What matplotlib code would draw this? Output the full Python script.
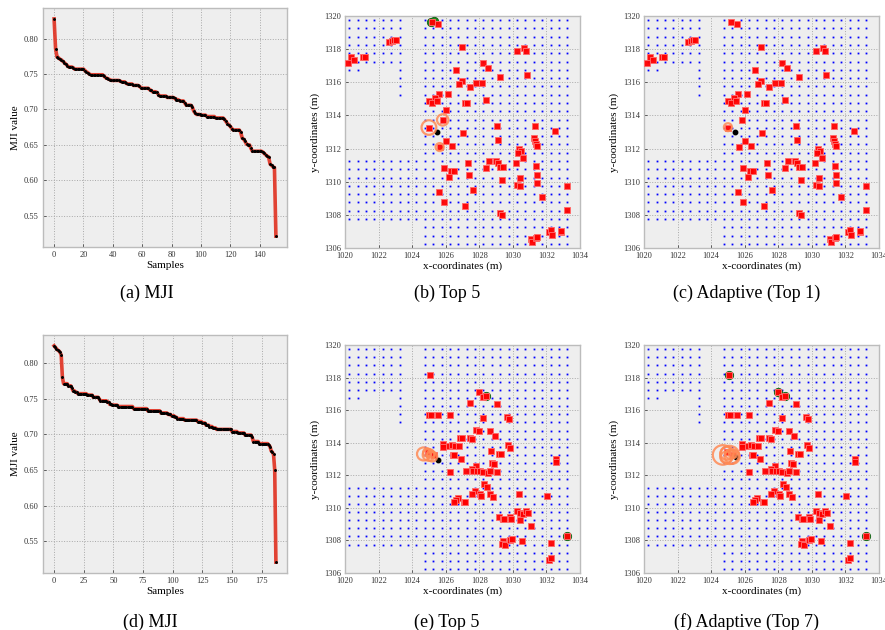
import numpy as np
import matplotlib.pyplot as plt
from matplotlib.patches import Circle

plt.rcParams['font.family'] = ['Liberation Serif', 'DejaVu Serif']

# sorted MJI values, top row (a) and bottom row (d)
mji_a = [
    0.828, 0.786, 0.774, 0.773, 0.771, 0.770, 0.768, 0.766, 0.764, 0.762,
    0.760, 0.760, 0.760, 0.759, 0.757, 0.757, 0.757, 0.757, 0.757, 0.757,
    0.757, 0.755, 0.753, 0.752, 0.750, 0.749, 0.749, 0.749, 0.749, 0.749,
    0.749, 0.749, 0.749, 0.749, 0.747, 0.745, 0.744, 0.743, 0.742, 0.741,
    0.741, 0.741, 0.741, 0.741, 0.741, 0.740, 0.739, 0.739, 0.739, 0.737,
    0.736, 0.736, 0.736, 0.736, 0.734, 0.734, 0.734, 0.734, 0.733, 0.731,
    0.730, 0.730, 0.730, 0.730, 0.730, 0.728, 0.727, 0.725, 0.725, 0.725,
    0.724, 0.721, 0.719, 0.719, 0.719, 0.719, 0.719, 0.717, 0.717, 0.717,
    0.717, 0.717, 0.716, 0.714, 0.714, 0.713, 0.712, 0.712, 0.712, 0.709,
    0.706, 0.706, 0.706, 0.706, 0.704, 0.698, 0.695, 0.693, 0.693, 0.693,
    0.692, 0.692, 0.692, 0.692, 0.690, 0.690, 0.690, 0.690, 0.690, 0.690,
    0.688, 0.688, 0.688, 0.688, 0.688, 0.688, 0.686, 0.683, 0.680, 0.678,
    0.676, 0.673, 0.671, 0.671, 0.671, 0.671, 0.671, 0.668, 0.660, 0.658,
    0.655, 0.651, 0.650, 0.650, 0.645, 0.641, 0.641, 0.641, 0.641, 0.641,
    0.641, 0.641, 0.640, 0.638, 0.636, 0.634, 0.633, 0.623, 0.621, 0.619,
    0.618, 0.521,
]

mji_d = [
    0.824, 0.822, 0.820, 0.818, 0.817, 0.815, 0.811, 0.780, 0.771, 0.771,
    0.771, 0.771, 0.768, 0.768, 0.768, 0.765, 0.761, 0.761, 0.759, 0.759,
    0.757, 0.757, 0.757, 0.757, 0.757, 0.757, 0.757, 0.757, 0.755, 0.755,
    0.755, 0.755, 0.755, 0.752, 0.752, 0.752, 0.752, 0.752, 0.750, 0.747,
    0.747, 0.747, 0.747, 0.747, 0.747, 0.745, 0.745, 0.742, 0.742, 0.741,
    0.741, 0.741, 0.741, 0.741, 0.739, 0.739, 0.739, 0.739, 0.739, 0.739,
    0.739, 0.739, 0.739, 0.739, 0.739, 0.739, 0.739, 0.736, 0.736, 0.736,
    0.736, 0.736, 0.736, 0.736, 0.736, 0.736, 0.736, 0.736, 0.736, 0.733,
    0.733, 0.733, 0.733, 0.733, 0.733, 0.733, 0.733, 0.733, 0.733, 0.733,
    0.730, 0.730, 0.730, 0.730, 0.730, 0.730, 0.728, 0.728, 0.728, 0.726,
    0.726, 0.726, 0.724, 0.724, 0.722, 0.722, 0.722, 0.722, 0.722, 0.722,
    0.720, 0.720, 0.720, 0.720, 0.720, 0.720, 0.720, 0.720, 0.720, 0.720,
    0.720, 0.718, 0.718, 0.718, 0.718, 0.716, 0.716, 0.716, 0.713, 0.713,
    0.713, 0.711, 0.711, 0.711, 0.709, 0.709, 0.709, 0.707, 0.707, 0.707,
    0.707, 0.707, 0.707, 0.707, 0.707, 0.707, 0.707, 0.707, 0.707, 0.707,
    0.704, 0.704, 0.704, 0.704, 0.704, 0.702, 0.702, 0.702, 0.702, 0.702,
    0.702, 0.699, 0.699, 0.699, 0.699, 0.699, 0.699, 0.696, 0.690, 0.690,
    0.690, 0.690, 0.690, 0.687, 0.687, 0.687, 0.687, 0.687, 0.687, 0.687,
    0.687, 0.685, 0.683, 0.677, 0.675, 0.672, 0.650, 0.521,
]

# reference point grid (x columns, y rows) and the blocks where points exist
grid_x = [1020.25, 1020.75, 1021.25, 1021.75, 1022.25, 1022.75, 1023.25, 1023.75,
          1024.25, 1024.75, 1025.25, 1025.75, 1026.25, 1026.75, 1027.25, 1027.75,
          1028.25, 1028.75, 1029.25, 1029.75, 1030.25, 1030.75, 1031.25, 1031.75,
          1032.25, 1032.75, 1033.25]
grid_y = [1306.25, 1306.75, 1307.25, 1307.75, 1308.25, 1308.75, 1309.25, 1309.75,
          1310.25, 1310.75, 1311.25, 1311.75, 1312.25, 1312.75, 1313.25, 1313.75,
          1314.25, 1314.75, 1315.25, 1315.75, 1316.25, 1316.75, 1317.25, 1317.75,
          1318.25, 1318.75, 1319.25, 1319.75]
grid_blocks = [
    (1024.75, 1033.25, 1306.25, 1319.75),
    (1020.25, 1024.25, 1307.75, 1311.25),
    (1020.25, 1023.25, 1317.25, 1319.75),
    (1020.25, 1020.75, 1316.75, 1316.75),
    (1023.25, 1023.25, 1315.25, 1316.75),
]

# estimated positions (red squares)
est_top = [
    (1020.20, 1317.19), (1020.34, 1317.51), (1020.54, 1317.35), (1021.05, 1317.55),
    (1021.19, 1317.55), (1022.64, 1318.41), (1022.78, 1318.47), (1022.92, 1318.53),
    (1023.04, 1318.55), (1025.20, 1319.64), (1025.54, 1319.50), (1026.97, 1318.13),
    (1028.20, 1317.17), (1028.50, 1316.87), (1029.21, 1316.30), (1030.27, 1317.91),
    (1030.66, 1318.05), (1030.76, 1317.91), (1030.82, 1316.45), (1026.63, 1316.73),
    (1026.99, 1316.06), (1026.81, 1315.88), (1027.47, 1315.72), (1027.78, 1315.94),
    (1028.14, 1315.94), (1026.12, 1315.28), (1025.62, 1315.28), (1025.36, 1315.08),
    (1025.02, 1314.88), (1025.20, 1314.74), (1025.48, 1314.88), (1027.13, 1314.78),
    (1027.27, 1314.78), (1028.42, 1314.92), (1026.00, 1314.30), (1025.82, 1313.73),
    (1025.00, 1313.27), (1027.00, 1312.93), (1025.64, 1312.09), (1026.00, 1312.43),
    (1026.35, 1312.17), (1029.04, 1313.39), (1029.13, 1312.53), (1031.32, 1313.37),
    (1032.53, 1313.07), (1031.26, 1312.63), (1031.30, 1312.43), (1031.36, 1312.29),
    (1031.46, 1312.13), (1030.37, 1311.99), (1030.49, 1311.87), (1030.31, 1311.71),
    (1030.60, 1311.44), (1030.19, 1311.14), (1031.36, 1310.92), (1028.60, 1311.24),
    (1028.98, 1311.22), (1029.11, 1311.14), (1029.25, 1310.88), (1029.41, 1310.88),
    (1027.31, 1311.12), (1028.38, 1310.82), (1025.92, 1310.82), (1026.33, 1310.64),
    (1026.51, 1310.62), (1026.22, 1310.26), (1027.39, 1310.42), (1029.35, 1310.12),
    (1030.23, 1309.80), (1030.40, 1309.76), (1031.42, 1309.90), (1030.43, 1310.22),
    (1031.42, 1310.40), (1033.20, 1309.76), (1025.58, 1309.36), (1027.65, 1309.52),
    (1025.90, 1308.77), (1027.15, 1308.53), (1031.74, 1309.07), (1029.21, 1308.11),
    (1029.37, 1308.01), (1033.20, 1308.27), (1031.06, 1306.56), (1031.16, 1306.36),
    (1031.36, 1306.58), (1031.44, 1306.66), (1032.17, 1306.96), (1032.25, 1307.06),
    (1032.31, 1306.78), (1032.87, 1306.94), (1032.89, 1307.04),
]

est_bottom = [
    (1025.09, 1318.16), (1028.00, 1317.14), (1028.22, 1316.79), (1027.43, 1316.44),
    (1029.07, 1316.38), (1025.03, 1315.73), (1025.15, 1315.73), (1025.56, 1315.73),
    (1026.28, 1315.73), (1028.22, 1315.54), (1029.64, 1315.56), (1029.78, 1315.44),
    (1027.82, 1314.79), (1028.00, 1314.71), (1028.61, 1314.69), (1028.91, 1314.40),
    (1026.83, 1314.30), (1026.99, 1314.26), (1027.43, 1314.28), (1027.58, 1314.24),
    (1025.84, 1313.95), (1025.84, 1313.75), (1026.18, 1313.79), (1026.38, 1313.85),
    (1026.57, 1313.81), (1026.77, 1313.77), (1029.74, 1313.85), (1029.80, 1313.70),
    (1028.67, 1313.52), (1026.42, 1313.26), (1026.50, 1313.24), (1029.17, 1313.30),
    (1029.27, 1313.30), (1024.95, 1313.40), (1025.31, 1313.26), (1026.89, 1313.03),
    (1032.57, 1312.99), (1032.59, 1312.81), (1028.75, 1312.74), (1028.87, 1312.68),
    (1027.78, 1312.60), (1027.23, 1312.27), (1026.26, 1312.21), (1027.56, 1312.38),
    (1027.64, 1312.27), (1027.86, 1312.27), (1028.04, 1312.25), (1028.20, 1312.21),
    (1028.53, 1312.13), (1028.61, 1312.25), (1029.07, 1312.23), (1028.26, 1311.44),
    (1028.48, 1311.31), (1027.76, 1311.01), (1027.58, 1310.86), (1028.06, 1310.84),
    (1028.12, 1310.70), (1028.61, 1310.84), (1028.83, 1310.68), (1030.36, 1310.88),
    (1032.04, 1310.70), (1026.71, 1310.58), (1026.63, 1310.50), (1026.50, 1310.33),
    (1027.07, 1310.39), (1027.13, 1310.33), (1030.24, 1309.82), (1030.42, 1309.68),
    (1030.60, 1309.62), (1030.81, 1309.78), (1030.89, 1309.66), (1029.17, 1309.43),
    (1029.39, 1309.31), (1029.50, 1309.31), (1029.84, 1309.43), (1029.88, 1309.33),
    (1030.42, 1309.23), (1031.07, 1308.86), (1029.41, 1307.96), (1029.33, 1307.80),
    (1029.54, 1307.72), (1029.80, 1308.00), (1029.96, 1308.10), (1030.53, 1307.96),
    (1032.26, 1307.84), (1032.18, 1306.82), (1032.26, 1306.90), (1033.21, 1308.25),
    (1028.42, 1316.89),
]

# true position (black dot)
true_b = (1025.48, 1312.97)
true_c = (1025.45, 1313.00)
true_e = (1025.55, 1312.94)
true_f = (1025.50, 1313.10)

# selected neighbours (green) per panel
green_b = [(1025.12, 1319.66), (1025.30, 1319.70)]
green_c = []
green_e = [(1028.42, 1316.89), (1033.21, 1308.25)]
green_f = [(1025.09, 1318.16), (1028.00, 1317.14), (1028.42, 1316.89), (1033.21, 1308.25)]

# weighted estimate rings: (x, y, radius in m)
rings_b = [(1025.00, 1313.27, 0.44), (1025.82, 1313.73, 0.34), (1025.64, 1312.09, 0.24)]
rings_c = [(1025.00, 1313.29, 0.24)]
rings_e = [(1024.69, 1313.31, 0.40), (1024.99, 1313.25, 0.36), (1025.19, 1313.15, 0.30),
           (1024.90, 1313.40, 0.25), (1025.10, 1313.30, 0.22)]
rings_f = [(1024.70, 1313.25, 0.60), (1025.10, 1313.25, 0.56), (1025.25, 1313.15, 0.45),
           (1024.95, 1313.35, 0.40), (1025.15, 1313.30, 0.30), (1024.90, 1313.10, 0.35),
           (1025.30, 1313.30, 0.25)]

captions = ['(a) MJI', '(b) Top 5', '(c) Adaptive (Top 1)',
            '(d) MJI', '(e) Top 5', '(f) Adaptive (Top 7)']

W, H = 885, 630
fig = plt.figure(figsize=(W / 100, H / 100), dpi=100)


def px_axes(left, top, right, bottom):
    return fig.add_axes([left / W, 1 - bottom / H, (right - left) / W, (bottom - top) / H])


def style(ax):
    ax.set_facecolor('#eeeeee')
    for s in ax.spines.values():
        s.set_color('#bcbcbc')
        s.set_linewidth(1.0)
    ax.grid(True, color='#a8a8a8', linestyle=':', linewidth=0.7)
    ax.set_axisbelow(True)
    ax.tick_params(labelsize=6, length=2, width=0.6, direction='in',
                   colors='#444444', labelcolor='#333333', pad=3)


def mji_panel(ax, values, xticks):
    style(ax)
    xs = np.arange(len(values))
    ax.plot(xs, values, color='#e03020', lw=2.6, alpha=0.9, zorder=2)
    ax.plot(xs, values, '.', color='black', ms=2.2, zorder=3)
    ax.set_xticks(xticks)
    ax.set_yticks([0.55, 0.60, 0.65, 0.70, 0.75, 0.80])
    ax.set_yticklabels(['0.55', '0.60', '0.65', '0.70', '0.75', '0.80'])
    ax.set_xlabel('Samples', fontsize=8, labelpad=1)
    ax.set_ylabel('MJI value', fontsize=8, labelpad=3)


def map_panel(ax, est, true_pos, greens, rings):
    style(ax)
    gx, gy = [], []
    for x0, x1, y0, y1 in grid_blocks:
        for x in grid_x:
            for y in grid_y:
                if x0 <= x <= x1 and y0 <= y <= y1:
                    gx.append(x)
                    gy.append(y)
    ax.plot(gx, gy, 's', color='#0000ff', ms=1.3, mew=0, zorder=2)
    for x, y in greens:
        ax.plot(x, y, 'o', color='#1f8a1f', mec='#0f5f0f', ms=6, mew=0.6, zorder=3)
    ex = [p[0] for p in est]
    ey = [p[1] for p in est]
    ax.plot(ex, ey, 's', color='#ff0000', mec='#ff6a6a', ms=3.8, mew=0.7,
            alpha=0.95, zorder=4)
    ax.plot(true_pos[0], true_pos[1], 'o', color='black', ms=3.2, zorder=5)
    for x, y, r in rings:
        ax.add_patch(Circle((x, y), r, fill=False, edgecolor='#ff8a55',
                            lw=1.6, alpha=0.85, zorder=6))
    ax.set_xlim(1020, 1034)
    ax.set_ylim(1306, 1320)
    ax.set_xticks(range(1020, 1035, 2))
    ax.set_yticks(range(1306, 1321, 2))
    ax.set_xlabel('x-coordinates (m)', fontsize=8, labelpad=1)
    ax.set_ylabel('y-coordinates (m)', fontsize=8, labelpad=3)


ax_a = px_axes(43, 8, 287, 247)
mji_panel(ax_a, mji_a, range(0, 141, 20))
ax_b = px_axes(345, 16, 580, 248)
map_panel(ax_b, est_top, true_b, green_b, rings_b)
ax_c = px_axes(644, 16, 879, 248)
map_panel(ax_c, est_top, true_c, green_c, rings_c)

ax_d = px_axes(43, 335, 287, 573)
mji_panel(ax_d, mji_d, range(0, 176, 25))
ax_e = px_axes(345, 345, 580, 573)
map_panel(ax_e, est_bottom, true_e, green_e, rings_e)
ax_f = px_axes(644, 345, 879, 573)
map_panel(ax_f, est_bottom, true_f, green_f, rings_f)

cap_x = [147, 447, 747, 150, 447, 747]
cap_y = [293, 293, 293, 622, 622, 622]
for t, cx, cy in zip(captions, cap_x, cap_y):
    fig.text(cx / W, 1 - cy / H, t, ha='center', va='center', fontsize=13)

fig.savefig('out.png', dpi=100)
